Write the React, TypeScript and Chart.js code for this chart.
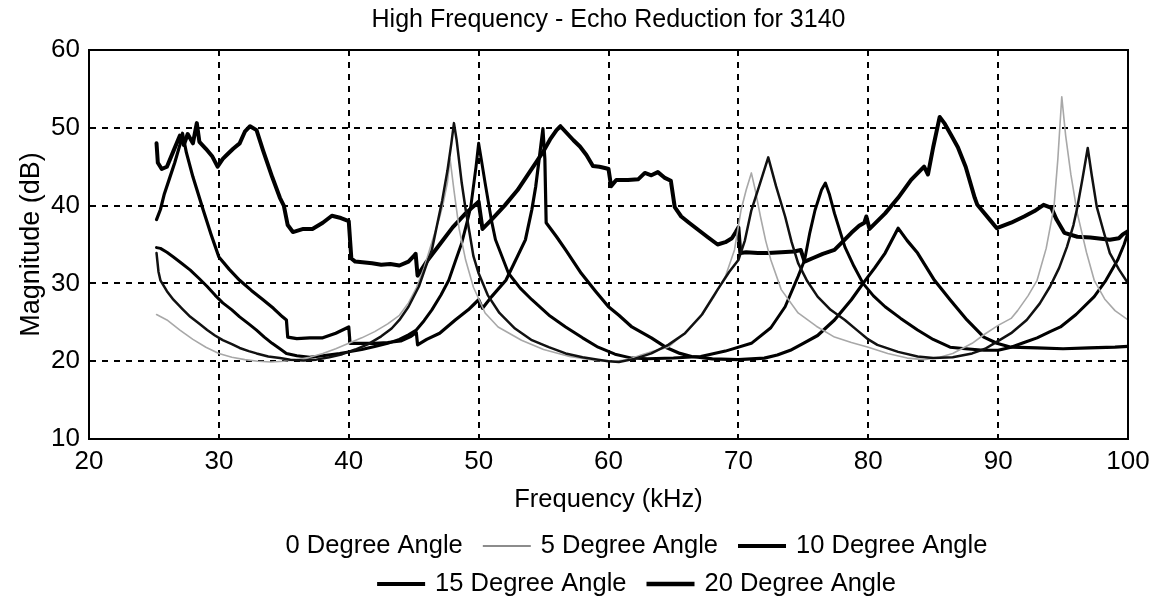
import React, { useEffect, useRef } from "react";
import { Chart, registerables } from "chart.js";

Chart.register(...registerables);

const chartTitle = "High Frequency - Echo Reduction for 3140";
const xTitle = "Frequency (kHz)";
const yTitle = "Magnitude (dB)";
const seriesLabels = ["0 Degree Angle", "5 Degree Angle", "10 Degree Angle", "15 Degree Angle", "20 Degree Angle"];

// [frequency kHz, magnitude dB]
const angle0: [number, number][] = [
  [25.2, 33.9], [25.35, 31.5], [25.5, 30.4], [26.0, 29.0], [26.5, 27.9], [27.2, 26.7], [27.8, 25.7], [28.5, 24.8],
  [29.1, 24.0], [29.7, 23.3], [30.3, 22.7], [31.0, 22.2], [31.6, 21.7], [32.3, 21.3], [32.9, 21.0], [33.8, 20.6],
  [34.7, 20.4], [35.5, 20.2], [36.5, 20.1], [37.5, 20.2], [38.5, 20.5], [39.5, 20.9], [40.5, 21.5], [41.5, 22.2],
  [42.5, 23.2], [43.3, 24.2], [43.9, 25.3], [44.6, 27.0], [45.4, 29.6], [45.9, 32.0], [46.4, 34.3], [46.8, 37.5],
  [47.2, 40.7], [47.6, 44.5], [47.9, 48.0], [48.1, 50.6], [48.3, 48.5], [48.7, 42.9], [49.0, 39.5], [49.3, 36.5],
  [49.6, 33.5], [50.0, 31.3], [50.7, 28.5], [51.6, 26.2], [52.8, 24.2], [54.1, 22.7], [55.4, 21.8], [56.7, 21.0],
  [58.0, 20.5], [59.2, 20.2], [60.0, 20.0], [60.8, 19.9], [62.0, 20.3], [63.3, 21.0], [64.6, 22.1], [65.9, 23.6],
  [67.2, 26.0], [68.4, 29.2], [69.3, 31.5], [70.0, 33.0], [70.5, 35.5], [71.0, 39.4], [71.6, 42.5], [72.3, 46.2],
  [72.9, 42.5], [73.6, 38.6], [74.1, 35.3], [74.6, 32.6], [75.3, 30.3], [76.1, 28.3], [77.1, 26.6], [78.2, 25.3],
  [79.2, 23.9], [80.0, 22.8], [80.7, 22.1], [82.3, 21.2], [83.8, 20.6], [85.0, 20.4], [86.5, 20.5], [88.0, 21.0],
  [89.0, 21.6], [89.7, 22.3], [91.0, 23.6], [92.2, 25.3], [93.2, 27.4], [94.0, 29.6], [94.7, 32.0], [95.3, 34.7],
  [95.8, 37.5], [96.1, 39.8], [96.5, 43.5], [96.9, 47.4], [97.2, 44.0], [97.6, 39.8], [98.1, 36.8], [98.6, 33.9],
  [99.3, 31.8], [100, 30.0],
];

const angle5: [number, number][] = [
  [25.2, 26.0], [26.0, 25.3], [27.0, 24.0], [28.0, 22.8], [29.0, 21.8], [30.0, 21.0], [31.0, 20.5], [32.0, 20.2],
  [33.0, 20.0], [34.0, 19.9], [35.0, 20.0], [36.0, 20.2], [37.0, 20.5], [38.0, 21.0], [39.0, 21.6], [40.0, 22.3],
  [41.0, 23.0], [42.0, 23.8], [43.0, 24.8], [43.9, 25.9], [44.6, 27.5], [45.2, 29.4], [45.8, 32.0], [46.4, 35.3],
  [47.0, 38.5], [47.3, 40.5], [47.6, 43.0], [47.8, 46.0], [48.1, 42.0], [48.5, 37.0], [49.0, 33.0], [49.6, 29.5],
  [50.5, 26.2], [51.5, 24.4], [53.3, 22.7], [55.0, 21.5], [57.0, 20.6], [59.0, 20.1], [60.5, 20.0], [61.5, 20.2],
  [62.5, 20.8], [63.5, 21.3], [64.6, 21.8], [65.8, 23.5], [67.1, 25.7], [68.1, 28.2], [69.0, 30.9], [69.7, 34.3],
  [70.2, 39.4], [70.6, 42.0], [71.0, 44.2], [71.3, 42.0], [71.7, 38.6], [72.1, 35.5], [72.5, 33.0], [73.3, 29.2],
  [74.6, 26.2], [76.0, 24.5], [77.4, 23.1], [78.7, 22.4], [80.0, 21.8], [81.5, 21.0], [83.0, 20.4], [84.3, 20.2],
  [85.5, 20.5], [86.5, 21.0], [88.0, 22.3], [88.9, 23.4], [90.0, 24.6], [91.0, 25.5], [91.5, 26.5], [92.3, 28.4],
  [93.0, 30.4], [93.7, 34.5], [94.3, 39.8], [94.6, 46.0], [94.9, 54.0], [95.2, 49.0], [95.6, 44.0], [96.1, 39.0],
  [96.8, 34.0], [97.4, 30.4], [98.2, 28.0], [99.0, 26.5], [100, 25.3],
];

const angle10: [number, number][] = [
  [25.2, 34.6], [25.5, 34.5], [26.0, 34.0], [26.5, 33.4], [27.2, 32.5], [27.8, 31.7], [28.5, 30.6], [29.1, 29.6],
  [29.7, 28.5], [30.3, 27.5], [31.0, 26.6], [31.6, 25.7], [32.3, 24.8], [32.9, 24.0], [33.5, 23.1], [34.1, 22.3],
  [34.7, 21.6], [35.2, 21.0], [36.0, 20.7], [37.0, 20.5], [38.0, 20.7], [39.3, 21.0], [40.0, 21.2], [41.0, 21.5],
  [42.0, 21.9], [43.0, 22.3], [43.9, 22.8], [44.6, 23.4], [45.2, 24.0], [45.8, 25.2], [46.4, 26.6], [47.1, 28.5],
  [47.7, 30.4], [48.2, 32.8], [48.7, 35.2], [49.1, 37.8], [49.4, 39.9], [49.8, 45.0], [50.0, 48.0], [50.2, 46.0],
  [50.5, 42.9], [51.0, 38.0], [51.3, 35.6], [52.3, 31.3], [53.2, 29.4], [54.1, 27.9], [55.5, 25.8], [56.7, 24.4],
  [58.0, 23.0], [59.2, 21.8], [60.5, 20.9], [61.8, 20.4], [63.0, 20.3], [65.0, 20.4], [67.1, 20.6], [69.0, 21.3],
  [71.0, 22.3], [72.5, 24.3], [73.6, 27.0], [74.6, 30.9], [75.1, 33.0], [75.5, 36.5], [75.9, 39.4], [76.4, 42.0],
  [76.7, 42.9], [77.0, 41.5], [77.4, 39.0], [78.2, 34.7], [78.9, 32.2], [79.6, 30.0], [80.4, 28.4], [81.3, 27.0],
  [82.5, 25.5], [83.8, 24.0], [85.0, 22.8], [86.3, 21.8], [87.5, 21.6], [88.9, 21.4], [90.0, 21.4], [91.0, 21.8],
  [92.0, 22.4], [93.0, 23.0], [94.0, 23.8], [94.8, 24.4], [96.0, 26.0], [97.4, 28.3], [98.3, 30.4], [99.2, 33.0],
  [99.7, 35.0], [100, 36.5],
];

const angle15: [number, number][] = [
  [25.2, 38.2], [25.5, 39.5], [25.8, 41.5], [26.2, 43.5], [26.6, 45.5], [27.0, 47.8], [27.2, 49.3], [27.5, 46.8],
  [28.0, 43.7], [28.8, 39.4], [29.4, 36.3], [30.0, 33.4], [30.8, 31.8], [31.6, 30.4], [32.5, 29.1], [33.4, 27.9],
  [34.2, 26.8], [34.9, 25.7], [35.2, 25.3], [35.3, 23.1], [36.0, 22.9], [37.0, 23.0], [38.0, 23.0], [39.0, 23.6],
  [40.0, 24.4], [40.1, 22.3], [41.0, 22.3], [42.0, 22.3], [43.0, 22.4], [44.0, 22.6], [44.8, 23.2], [45.2, 23.7],
  [45.3, 22.1], [46.0, 22.8], [47.0, 23.6], [48.2, 25.3], [49.2, 26.6], [50.0, 27.9], [50.3, 26.8], [51.0, 28.3],
  [52.1, 30.4], [53.0, 33.5], [53.6, 35.6], [54.1, 39.5], [54.4, 42.5], [54.7, 46.5], [54.95, 49.9], [55.1, 46.0],
  [55.2, 37.8], [56.0, 36.0], [56.7, 34.3], [57.9, 31.3], [59.0, 29.0], [60.0, 27.0], [60.8, 25.9], [61.8, 24.4],
  [63.3, 23.0], [64.4, 21.8], [65.5, 21.0], [66.4, 20.6], [68.0, 20.3], [70.0, 20.2], [72.0, 20.4], [73.0, 20.8],
  [74.0, 21.4], [75.0, 22.3], [76.1, 23.3], [77.4, 25.3], [78.7, 27.9], [79.6, 30.0], [80.5, 32.0], [81.3, 33.9],
  [82.3, 37.1], [83.0, 35.5], [83.8, 33.9], [85.1, 30.4], [86.3, 27.9], [87.6, 25.3], [88.9, 23.1], [89.9, 22.3],
  [91.0, 21.8], [93.0, 21.7], [95.0, 21.6], [97.0, 21.7], [99.0, 21.8], [100, 21.9],
];

const angle20: [number, number][] = [
  [25.2, 48.0], [25.3, 45.5], [25.6, 44.7], [26.0, 45.0], [26.5, 47.0], [27.0, 49.0], [27.3, 47.8], [27.6, 49.2],
  [28.0, 48.0], [28.3, 50.6], [28.5, 48.2], [29.0, 47.3], [29.5, 46.3], [29.9, 45.0], [30.3, 46.0], [30.6, 46.5],
  [31.1, 47.3], [31.6, 48.0], [32.0, 49.5], [32.4, 50.2], [32.9, 49.7], [33.4, 47.1], [34.1, 43.7], [34.7, 41.0],
  [35.0, 40.0], [35.3, 37.5], [35.7, 36.6], [36.5, 37.0], [37.2, 37.0], [38.0, 37.8], [38.7, 38.7], [39.4, 38.4],
  [40.0, 38.0], [40.2, 33.2], [40.5, 32.8], [41.8, 32.6], [42.5, 32.4], [43.2, 32.5], [43.9, 32.3], [44.6, 32.8],
  [45.0, 33.5], [45.15, 33.8], [45.3, 31.0], [46.0, 32.8], [47.0, 35.0], [48.0, 37.2], [49.0, 39.0], [50.0, 40.5],
  [50.3, 37.0], [51.0, 38.2], [52.0, 40.0], [53.0, 42.0], [54.0, 44.5], [54.4, 45.5], [55.0, 47.0], [55.5, 48.5],
  [56.0, 49.7], [56.3, 50.2], [56.8, 49.3], [57.3, 48.4], [57.8, 47.6], [58.3, 46.5], [58.8, 45.1], [59.3, 45.0],
  [59.8, 44.8], [60.0, 44.7], [60.2, 42.5], [60.6, 43.3], [61.5, 43.3], [62.3, 43.4], [62.8, 44.2], [63.3, 43.9],
  [63.8, 44.3], [64.3, 43.6], [64.8, 43.2], [65.1, 39.8], [65.6, 38.6], [66.2, 37.8], [66.9, 36.9], [67.6, 36.0],
  [68.4, 35.0], [69.0, 35.3], [69.5, 35.8], [69.8, 36.6], [70.0, 37.2], [70.15, 33.9], [70.6, 34.0], [71.5, 33.9],
  [72.3, 33.9], [73.3, 34.0], [74.3, 34.1], [74.8, 34.3], [75.1, 32.8], [75.8, 33.3], [76.5, 33.8], [77.4, 34.3],
  [78.0, 35.3], [78.7, 36.5], [79.3, 37.4], [79.7, 37.8], [79.85, 38.6], [80.1, 37.0], [80.7, 38.0], [81.3, 39.0],
  [82.3, 41.0], [83.3, 43.3], [84.3, 45.0], [84.6, 44.0], [85.0, 47.5], [85.5, 51.4], [85.9, 50.5], [86.4, 49.0],
  [86.9, 47.5], [87.5, 45.0], [88.2, 41.0], [88.4, 40.1], [89.4, 38.1], [89.9, 37.1], [91.0, 37.8], [92.0, 38.6],
  [92.8, 39.3], [93.5, 40.1], [94.1, 39.7], [94.5, 38.2], [95.1, 36.5], [96.1, 36.0], [97.1, 35.9], [98.6, 35.6],
  [99.3, 35.8], [99.6, 36.3], [100, 36.7],
];

const xTicks = [20, 30, 40, 50, 60, 70, 80, 90, 100];
const yTicks = [10, 20, 30, 40, 50, 60];

const FONT = '"Liberation Sans", Arial, sans-serif';

const toPoints = (arr: [number, number][]) => arr.map(([x, y]) => ({ x, y }));

const framePlugin = {
  id: "frame",
  afterDatasetsDraw(chart: any) {
    const { ctx, chartArea: a } = chart;
    ctx.save();
    ctx.strokeStyle = "#000";
    ctx.lineWidth = 2;
    ctx.setLineDash([]);
    ctx.strokeRect(a.left, a.top, a.right - a.left, a.bottom - a.top);
    ctx.restore();
  },
};

const rowLegendPlugin = {
  id: "rowLegend",
  afterDraw(chart: any) {
    const { ctx, chartArea: a } = chart;
    const ds = chart.data.datasets;
    const rows = [[0, 1, 2], [3, 4]];
    const sampleW = 48;
    const gapText = 10;
    const gapItem = 20;
    const cx = (a.left + a.right) / 2 + 28;
    const rowY = [a.bottom + 107, a.bottom + 145];
    ctx.save();
    ctx.font = `25.5px ${FONT}`;
    ctx.textBaseline = "middle";
    ctx.textAlign = "left";
    rows.forEach((row, r) => {
      const items = row.map((i) => {
        const d = ds[i];
        const hasSample = d.legendSample !== false;
        const tw = ctx.measureText(d.label).width;
        return { d, hasSample, tw, w: (hasSample ? sampleW + gapText : 0) + tw };
      });
      const total = items.reduce((s: number, it: any) => s + it.w, 0) + gapItem * (items.length - 1);
      let x = cx - total / 2;
      const y = rowY[r];
      items.forEach((it: any) => {
        if (it.hasSample) {
          ctx.beginPath();
          ctx.strokeStyle = it.d.legendColor || it.d.borderColor;
          ctx.lineWidth = it.d.legendWidth || it.d.borderWidth;
          ctx.moveTo(x, y);
          ctx.lineTo(x + sampleW, y);
          ctx.stroke();
          x += sampleW + gapText;
        }
        ctx.fillStyle = "#000";
        ctx.fillText(it.d.label, x, y);
        x += it.tw + gapItem;
      });
    });
    ctx.restore();
  },
};

export default function App() {
  const canvasRef = useRef<HTMLCanvasElement | null>(null);

  useEffect(() => {
    document.body.style.margin = "0";
    const canvas = canvasRef.current;
    if (!canvas) return;
    const chart = new Chart(canvas, {
      type: "line",
      data: {
        datasets: [
          {
            label: seriesLabels[0],
            data: toPoints(angle0),
            borderColor: "#111",
            borderWidth: 2.5,
            legendSample: false,
          } as any,
          {
            label: seriesLabels[1],
            data: toPoints(angle5),
            borderColor: "#a8a8a8",
            borderWidth: 1.6,
            legendColor: "#666",
            legendWidth: 1.5,
          } as any,
          {
            label: seriesLabels[2],
            data: toPoints(angle10),
            borderColor: "#000",
            borderWidth: 3,
            legendWidth: 4,
          } as any,
          {
            label: seriesLabels[3],
            data: toPoints(angle15),
            borderColor: "#000",
            borderWidth: 3.2,
            legendWidth: 4,
          } as any,
          {
            label: seriesLabels[4],
            data: toPoints(angle20),
            borderColor: "#000",
            borderWidth: 4,
            legendWidth: 4.5,
          } as any,
        ],
      },
      options: {
        animation: false,
        responsive: false,
        devicePixelRatio: 1,
        layout: { padding: { left: 0, right: 26, top: 0, bottom: 90 } },
        elements: {
          point: { radius: 0, hoverRadius: 0 },
          line: { tension: 0, borderJoinStyle: "round", borderCapStyle: "round" },
        },
        plugins: {
          legend: { display: false },
          tooltip: { enabled: false },
          title: {
            display: true,
            text: chartTitle,
            fullSize: false,
            color: "#000",
            font: { family: FONT, size: 25, weight: "normal" },
            padding: { top: 5, bottom: 15 },
          },
        },
        scales: {
          x: {
            type: "linear",
            min: 20,
            max: 100,
            afterBuildTicks: (scale: any) => {
              scale.ticks = xTicks.map((v) => ({ value: v }));
            },
            afterFit: (scale: any) => {
              scale.height = 76;
              scale.paddingRight = 0;
            },
            ticks: {
              color: "#000",
              font: { family: FONT, size: 26 },
              padding: 7,
              maxRotation: 0,
              autoSkip: false,
            },
            grid: { color: "#000", lineWidth: 2, drawTicks: false },
            border: { display: true, color: "#000", width: 2, dash: [6, 6] },
            title: {
              display: true,
              text: xTitle,
              color: "#000",
              font: { family: FONT, size: 25.5 },
              padding: { top: 0, bottom: 0 },
            },
          },
          y: {
            type: "linear",
            min: 10,
            max: 60,
            afterBuildTicks: (scale: any) => {
              scale.ticks = yTicks.map((v) => ({ value: v }));
            },
            afterFit: (scale: any) => {
              scale.width = 89;
            },
            ticks: {
              color: "#000",
              font: { family: FONT, size: 26 },
              padding: 9,
              autoSkip: false,
            },
            grid: { color: "#000", lineWidth: 2, drawTicks: false },
            border: { display: true, color: "#000", width: 2, dash: [6, 6] },
            title: {
              display: true,
              text: yTitle,
              color: "#000",
              font: { family: FONT, size: 27 },
              padding: { top: 15, bottom: 0 },
            },
          },
        },
      },
      plugins: [framePlugin, rowLegendPlugin],
    });
    return () => chart.destroy();
  }, []);

  return (
    <div style={{ width: 1154, height: 605 }}>
      <canvas ref={canvasRef} width={1154} height={605} style={{ display: "block" }} />
    </div>
  );
}
